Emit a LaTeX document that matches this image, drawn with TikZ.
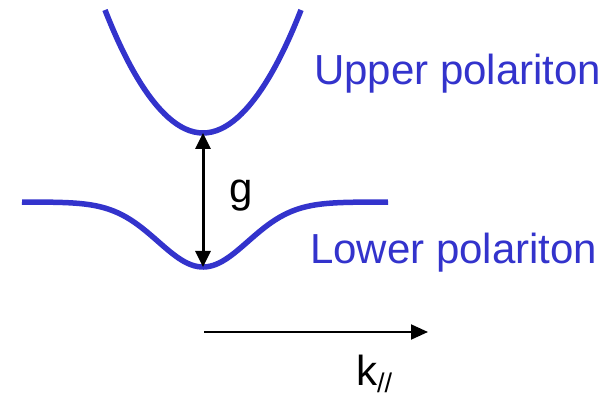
\documentclass[tikz,border=0pt]{standalone}
\usepackage{fontspec}
\setmainfont{Liberation Sans}
\usepackage{tikz}
\usetikzlibrary{arrows.meta, positioning}

\definecolor{polblue}{RGB}{51,51,204}

\begin{document}
\begin{tikzpicture}[
        x=1pt, y=-1pt,
        branch/.style={draw=polblue, line width=5.5pt},
        lbl/.style={anchor=base west, inner sep=0pt, font=\fontsize{42}{50}\selectfont},
        gap/.style={draw, line width=3pt, {Triangle[length=16pt,width=15pt]}-{Triangle[length=16pt,width=15pt]}},
        axis/.style={draw, line width=2pt, -{Triangle[length=17pt,width=15pt]}}
    ]
        \useasboundingbox (0,0) rectangle (614,398);

        % Ramas de polaritones
        \coordinate (upmin) at (203,133);
        \coordinate (lowmin) at (203,267);
        \draw [branch] (105,10) parabola bend (upmin) (301,10);
        \draw [branch] plot [domain=22:388, samples=120, smooth]
            (\x, {202+65*exp(-0.5*((\x-203)/45)^2)});

        \node [lbl, text=polblue] (upper) at (314,85) {Upper polariton};
        \node [lbl, text=polblue] (lower) at (310,264) {Lower polariton};

        % Separacion g
        \draw [gap] (upmin) -- (lowmin);
        \node [lbl] (g) at (229,203) {g};

        % Eje k
        \coordinate (kstart) at (204,332);
        \coordinate (kend) at (428,332);
        \draw [axis] (kstart) -- (kend);
        \node [lbl] (k) at (356,386) {k\raisebox{-6pt}{\fontsize{27}{30}\selectfont //}};

    \end{tikzpicture}
\end{document}
